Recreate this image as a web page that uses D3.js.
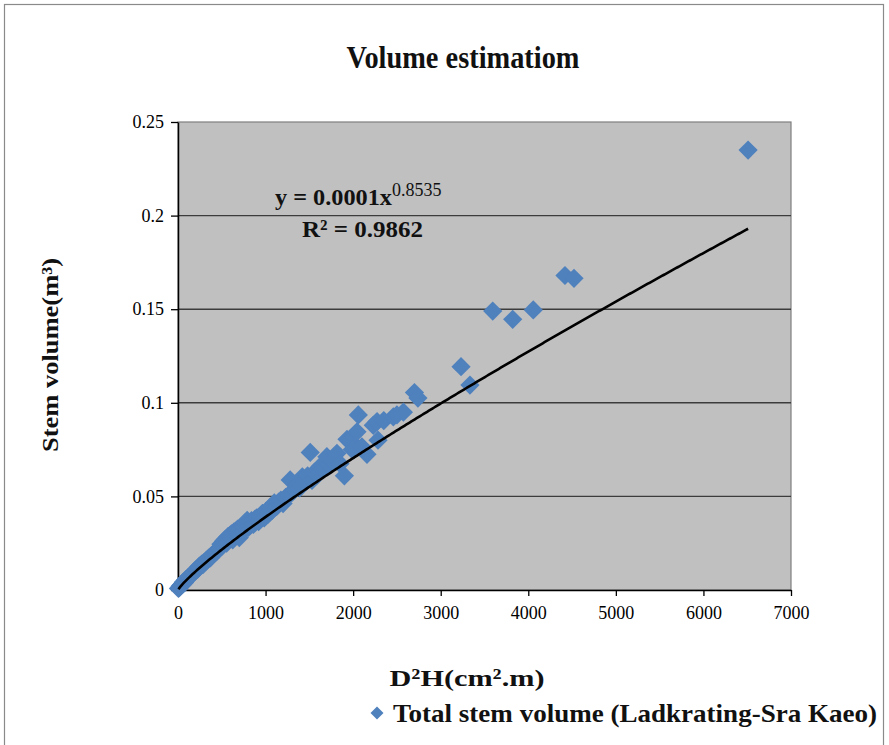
<!DOCTYPE html>
<html><head><meta charset="utf-8">
<script src="https://cdn.jsdelivr.net/npm/d3@7"></script>
<style>body{margin:0;background:#fff} svg{display:block}</style>
</head><body><svg id="c" width="889" height="745"></svg>
<script>
// ---- data ----
const xValues = [5,15,25,35,50,60,75,90,105,120,135,150,165,180,195,210,225,240,255,270,285,300,320,335,350,370,385,400,420,440,455,470,490,505,520,540,555,570,590,610,625,640,660,680,700,715,735,750,770,790,805,825,840,860,880,900,920,945,965,985,1005,1030,1050,1075,1100,1125,1150,1175,1200,1230,1260,1281,1300,1330,1360,1390,1420,1450,1480,1510,1530,1560,1590,1624,1650,1700,1730,1760,1815,1850,1900,1930,1967,1990,2044,2059,2100,2158,2230,2273,2284,2350,2459,2500,2574,2700,2740,3232,3334,3594,3822,4057,4419,4522,6510];
const yValues = [0.0008,0.0012,0.002,0.0025,0.003,0.0042,0.004,0.0055,0.006,0.0068,0.0072,0.008,0.0088,0.0095,0.0102,0.011,0.0112,0.0125,0.013,0.0138,0.0135,0.0148,0.0155,0.0162,0.017,0.0172,0.0185,0.019,0.0198,0.0205,0.0215,0.022,0.0245,0.0235,0.026,0.027,0.025,0.0285,0.029,0.03,0.0268,0.031,0.0315,0.0325,0.028,0.033,0.0312,0.034,0.036,0.0372,0.0335,0.0345,0.037,0.035,0.0378,0.0385,0.0365,0.0395,0.041,0.0385,0.042,0.0405,0.044,0.0425,0.0465,0.0445,0.047,0.048,0.0462,0.0495,0.0505,0.0588,0.052,0.0535,0.056,0.0545,0.0605,0.058,0.061,0.0735,0.0585,0.063,0.0615,0.066,0.0645,0.0712,0.0665,0.069,0.073,0.0675,0.061,0.0805,0.080,0.075,0.0845,0.0935,0.0765,0.0725,0.088,0.09,0.080,0.0905,0.0925,0.0935,0.095,0.1055,0.1025,0.1193,0.1095,0.149,0.1446,0.1496,0.168,0.1665,0.235];
const xTicks = [0,1000,2000,3000,4000,5000,6000,7000];
const xTickLabels = ["0","1000","2000","3000","4000","5000","6000","7000"];
const yTicks = [0,0.05,0.1,0.15,0.2,0.25];
const yTickLabels = ["0","0.05","0.1","0.15","0.2","0.25"];
const trendCoef = [0.0001073, 0.8535]; // power trendline a*x^b
const titleText = "Volume estimatiom";
const seriesName = "Total stem volume (Ladkrating-Sra Kaeo)";

// ---- layout ----
const serif = "'Liberation Serif','Times New Roman',serif";
const blue = "#4F81BD";
const svg = d3.select("#c");
const L = 178, R = 791, T = 122, B = 590;

svg.append("rect").attr("width",889).attr("height",745).attr("fill","#fff");
svg.append("rect").attr("x",4.5).attr("y",4.5).attr("width",879).attr("height",760)
  .attr("fill","none").attr("stroke","#8a8a8a").attr("stroke-width",1.2);

const x = d3.scaleLinear().domain([0,7000]).range([L,R]);
const y = d3.scaleLinear().domain([0,0.25]).range([B,T]);

// plot area
svg.append("rect").attr("x",L).attr("y",T).attr("width",R-L).attr("height",B-T)
  .attr("fill","#c0c0c0").attr("stroke","#7f7f7f").attr("stroke-width",1.2);

// gridlines
svg.append("g").selectAll("line").data(yTicks.filter(v=>v>0 && v<0.25)).join("line")
  .attr("x1",L).attr("x2",R).attr("y1",d=>y(d)).attr("y2",d=>y(d))
  .attr("stroke","#3c3c3c").attr("stroke-width",1.4);

// axes
const ax = svg.append("g").attr("transform",`translate(0,${B})`)
  .call(d3.axisBottom(x).tickValues(xTicks).tickFormat((d,i)=>xTickLabels[i]).tickSize(6).tickSizeOuter(0).tickPadding(10));
const ay = svg.append("g").attr("transform",`translate(${L},0)`)
  .call(d3.axisLeft(y).tickValues(yTicks).tickFormat((d,i)=>yTickLabels[i]).tickSize(7).tickSizeOuter(0).tickPadding(7));
[ax,ay].forEach(g=>{
  g.selectAll("path.domain").attr("stroke","#000").attr("stroke-width",1.5);
  g.selectAll(".tick line").attr("stroke","#000").attr("stroke-width",1.3);
  g.selectAll("text").attr("font-family",serif).attr("font-size",18).attr("fill","#000");
});

// points
const pts = xValues.map((v,i)=>({x:v,y:yValues[i]}));
const diamond = d3.symbol().type(d3.symbolSquare).size(185);
svg.append("g").selectAll("path").data(pts).join("path")
  .attr("d",diamond)
  .attr("transform",d=>`translate(${x(d.x)},${y(d.y)}) rotate(45)`)
  .attr("fill",blue);

// trendline
const xs = d3.range(d3.min(xValues), d3.max(xValues)+1, 20);
xs.push(d3.max(xValues));
const line = d3.line().x(d=>x(d)).y(d=>y(trendCoef[0]*Math.pow(d,trendCoef[1])));
svg.append("path").datum(xs).attr("d",line).attr("fill","none")
  .attr("stroke","#000").attr("stroke-width",2.6);

// equation
const eq = svg.append("text").attr("x",275).attr("y",205)
  .attr("font-family",serif).attr("font-weight","bold").attr("font-size",24).attr("fill","#111");
eq.append("tspan").text("y = 0.0001x").attr("textLength",117).attr("lengthAdjust","spacingAndGlyphs");
eq.append("tspan").attr("dy",-9).attr("font-size",18).attr("font-weight","normal").text("0.8535");
svg.append("text").attr("x",302).attr("y",237)
  .attr("font-family",serif).attr("font-weight","bold").attr("font-size",24).attr("fill","#111")
  .attr("textLength",121).attr("lengthAdjust","spacingAndGlyphs")
  .text("R² = 0.9862");

// title
svg.append("text").attr("x",463).attr("y",68).attr("text-anchor","middle")
  .attr("font-family",serif).attr("font-weight","bold").attr("font-size",31).attr("fill","#111")
  .attr("textLength",233).attr("lengthAdjust","spacingAndGlyphs")
  .text(titleText);

// axis titles
svg.append("text").attr("transform","translate(58,355) rotate(-90)").attr("text-anchor","middle")
  .attr("font-family",serif).attr("font-weight","bold").attr("font-size",23).attr("fill","#111")
  .attr("textLength",194).attr("lengthAdjust","spacingAndGlyphs")
  .text("Stem volume(m³)");
svg.append("text").attr("x",467).attr("y",686).attr("text-anchor","middle")
  .attr("font-family",serif).attr("font-weight","bold").attr("font-size",24).attr("fill","#111")
  .attr("textLength",155).attr("lengthAdjust","spacingAndGlyphs")
  .text("D²H(cm².m)");

// legend
svg.append("path").attr("d",d3.symbol().type(d3.symbolSquare).size(85)())
  .attr("transform","translate(377,713) rotate(45)").attr("fill",blue);
svg.append("text").attr("x",393).attr("y",722)
  .attr("font-family",serif).attr("font-weight","bold").attr("font-size",25).attr("fill","#111")
  .attr("textLength",484).attr("lengthAdjust","spacingAndGlyphs")
  .text(seriesName);
</script>
</body></html>
